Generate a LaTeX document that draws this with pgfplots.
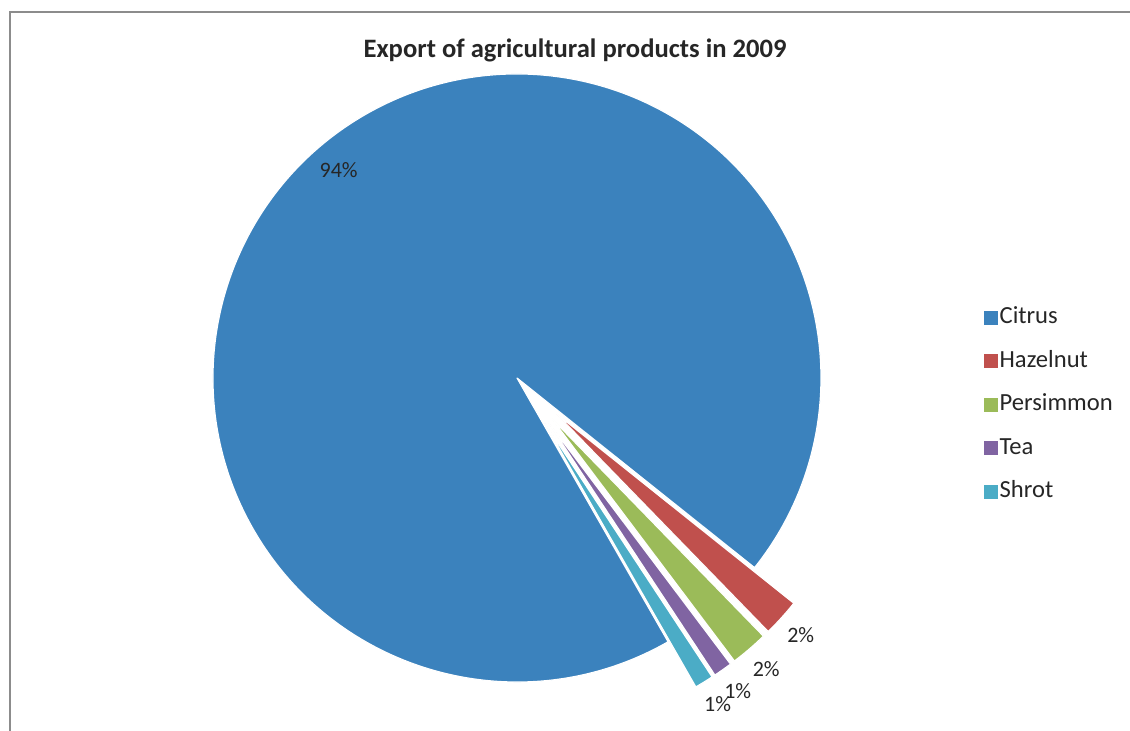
\documentclass[border=0pt]{standalone}
\usepackage{pgfplots}
\pgfplotsset{compat=1.18}
\usepackage{pgfplotstable}
\usepackage{fontspec}
\setmainfont{Carlito}

\definecolor{sl0}{HTML}{3B82BD}
\definecolor{sl1}{HTML}{C0504D}
\definecolor{sl2}{HTML}{9BBB59}
\definecolor{sl3}{HTML}{8064A2}
\definecolor{sl4}{HTML}{4BACC6}
\definecolor{txt}{HTML}{262626}
\definecolor{frame}{HTML}{8C8C8C}

% value in %, explode distance (px), label radius (px)
\pgfplotstableread{
name value explode lr
Citrus 94 0 274
Hazelnut 2 53 383
Persimmon 2 53 383
Tea 1 53 383
Shrot 1 53 383
}\pietable

\pgfplotsset{sqlegend/.style={legend image code/.code={\fill[##1] (0pt,-3.5pt) rectangle (7pt,3.5pt);}}}

\def\curang{-60.2}%
\pgfplotsforeachungrouped \i in {0,...,4}{%
  \pgfplotstablegetelem{\i}{value}\of\pietable \let\val\pgfplotsretval
  \pgfplotstablegetelem{\i}{explode}\of\pietable \let\ex\pgfplotsretval
  \pgfplotstablegetelem{\i}{lr}\of\pietable \let\lrad\pgfplotsretval
  \pgfplotstablegetelem{\i}{name}\of\pietable \expandafter\xdef\csname nm\i\endcsname{\pgfplotsretval}%
  \pgfmathsetmacro\ea{\curang-3.6*\val}%
  \pgfmathsetmacro\md{(\curang+\ea)/2}%
  \pgfmathsetmacro\cxx{517+\ex*cos(\md)}%
  \pgfmathsetmacro\cyy{353+\ex*sin(\md)}%
  \pgfmathsetmacro\lxx{517+\lrad*cos(\md)}%
  \pgfmathsetmacro\lyy{353+\lrad*sin(\md)}%
  \expandafter\xdef\csname sA\i\endcsname{\curang}%
  \expandafter\xdef\csname eA\i\endcsname{\ea}%
  \expandafter\xdef\csname cx\i\endcsname{\cxx}%
  \expandafter\xdef\csname cy\i\endcsname{\cyy}%
  \expandafter\xdef\csname lx\i\endcsname{\lxx}%
  \expandafter\xdef\csname ly\i\endcsname{\lyy}%
  \expandafter\xdef\csname vl\i\endcsname{\val}%
  \xdef\curang{\ea}%
}%

\begin{document}
\begin{tikzpicture}
\path[use as bounding box] (0,0) rectangle (565pt,365.5pt);
\begin{axis}[
  width=565pt, height=365.5pt, scale only axis,
  xmin=0, xmax=1130, ymin=0, ymax=731,
  hide axis, clip=false,
  legend style={draw=none, fill=none, at={(0.8705,0.4462)}, anchor=west,
    font=\fontsize{12.3}{14}\selectfont, text=txt, row sep=8.75pt,
    inner sep=0pt, outer sep=0pt,
    nodes={inner sep=1pt, text height=8.5pt, text depth=2.5pt},
    /tikz/every even column/.append style={column sep=2.5pt}},
  legend cell align=left,
]
\draw[frame, line width=1pt] (axis cs:9.5,0) -- (axis cs:9.5,718.5) -- (axis cs:1130,718.5);
\pgfplotsinvokeforeach{0,...,4}{%
  \edef\tmp{\noexpand\fill[fill=sl#1, draw=white, line width=0.6pt, line join=round]
    (axis cs:\csname cx#1\endcsname,\csname cy#1\endcsname) -- ++(\csname sA#1\endcsname:152pt)
    arc[start angle=\csname sA#1\endcsname, end angle=\csname eA#1\endcsname, radius=152pt] -- cycle;}%
  \tmp
  \edef\tmp{\noexpand\node[font=\noexpand\fontsize{11}{13}\noexpand\selectfont, text=txt]
    at (axis cs:\csname lx#1\endcsname,\csname ly#1\endcsname) {\csname vl#1\endcsname\noexpand\%};}%
  \tmp
  \addlegendimage{sqlegend, fill=sl#1, draw=none}
  \addlegendentryexpanded{\csname nm#1\endcsname}
}
\node[font=\bfseries\fontsize{13.3}{16}\selectfont, text=txt] at (axis cs:575,681) {Export of agricultural products in 2009};
\end{axis}
\end{tikzpicture}
\end{document}
